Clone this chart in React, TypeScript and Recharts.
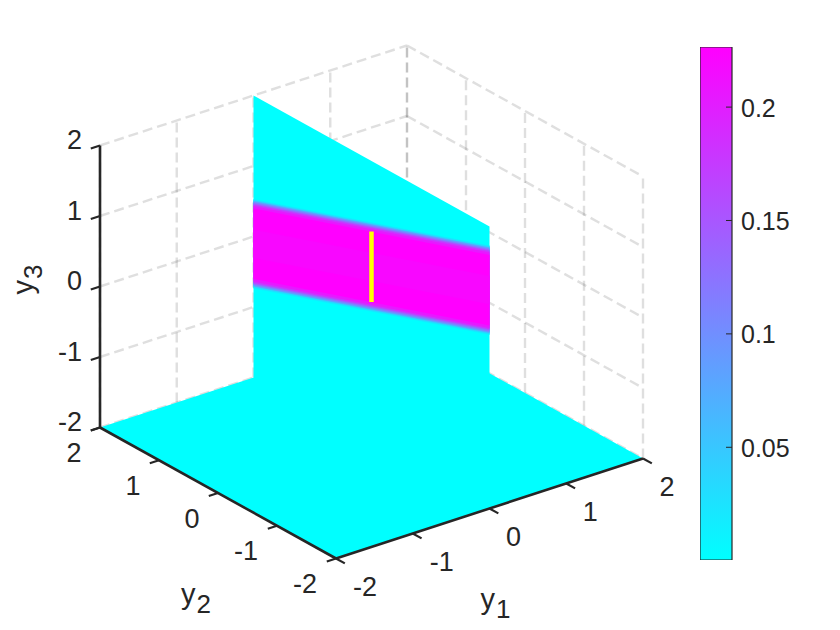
import { Area, Bar, ComposedChart, Line, Scatter, XAxis, YAxis } from "recharts";

type Point3 = [number, number, number];

const tickValues = [-2, -1, 0, 1, 2];
const tickLabels = ["-2", "-1", "0", "1", "2"];
const colorbarTicks = [0.05, 0.1, 0.15, 0.2];
const colorMin = 0.0003;
const colorMax = 0.2265;

// nested contours of the density slice on the plane y1 = 0
const bandCenter = 0.497;
const bandSlope = -0.3;
const contourLevels = [0.01, 0.03, 0.06, 0.09, 0.12, 0.15, 0.18, 0.205, 0.2265, 0.22];
const contourHalfWidths = [0.635, 0.625, 0.61, 0.6, 0.585, 0.57, 0.555, 0.535, 0.5, 0.2];
const yellowSegment: Point3[] = [
  [0, 0, 0],
  [0, 0, 1],
];

const INK = "#262626";
const FONT = "Liberation Sans, Arial, sans-serif";

function project([y1, y2, y3]: Point3) {
  return {
    sx: 371.5 + 76.75 * y1 - 59 * y2,
    sy: 302 - 25 * y1 - 32.75 * y2 - 70.5 * y3,
  };
}

function line(a: Point3, b: Point3) {
  return [project(a), project(b)];
}

// turns a convex polygon into x / [low, high] rows for a range Area
function polygonBand(vertices: Point3[]) {
  const pts = vertices.map(project);
  const xs = [...new Set(pts.map((p) => p.sx))].sort((a, b) => a - b);
  return xs.map((sx) => {
    const ys: number[] = [];
    pts.forEach((p, i) => {
      const q = pts[(i + 1) % pts.length];
      if (sx < Math.min(p.sx, q.sx) || sx > Math.max(p.sx, q.sx)) return;
      if (p.sx === q.sx) ys.push(p.sy, q.sy);
      else ys.push(p.sy + ((sx - p.sx) / (q.sx - p.sx)) * (q.sy - p.sy));
    });
    return { sx, band: [Math.min(...ys), Math.max(...ys)] };
  });
}

function coolColor(value: number) {
  const t = Math.min(1, Math.max(0, (value - colorMin) / (colorMax - colorMin)));
  return `rgb(${Math.round(255 * t)},${Math.round(255 * (1 - t))},255)`;
}

const floor: Point3[] = [
  [-2, 2, -2],
  [-2, -2, -2],
  [2, -2, -2],
  [2, 2, -2],
];
const plane: Point3[] = [
  [0, 2, -2],
  [0, 2, 2],
  [0, -2, 2],
  [0, -2, -2],
];

const contours = contourLevels.map((level, i) => {
  const half = contourHalfWidths[i];
  return {
    level,
    data: polygonBand([
      [0, 2, bandCenter + 2 * bandSlope - half],
      [0, 2, bandCenter + 2 * bandSlope + half],
      [0, -2, bandCenter - 2 * bandSlope + half],
      [0, -2, bandCenter - 2 * bandSlope - half],
    ]),
  };
});

const gridLines = [
  ...tickValues.map((v) => line([v, 2, -2], [v, 2, 2])),
  ...tickValues.map((v) => line([2, v, -2], [2, v, 2])),
  ...tickValues.map((v) => line([-2, 2, v], [2, 2, v])),
  ...tickValues.map((v) => line([2, 2, v], [2, -2, v])),
];

const axisLines = [
  line([-2, 2, -2], [-2, 2, 2]),
  line([-2, 2, -2], [-2, -2, -2]),
  line([-2, -2, -2], [2, -2, -2]),
];

const tickMarks = [
  ...tickValues.map((v) => line([-2, 2, v], [-2.12, 2, v])),
  ...tickValues.map((v) => line([-2, v, -2], [-2.12, v, -2])),
  ...tickValues.map((v) => line([v, -2, -2], [v, -2.15, -2])),
];

const y3Labels = tickValues.map((v, i) => ({ ...project([-2, 2, v]), text: tickLabels[i], dx: -18, dy: -6, anchor: "end" }));
const y2Labels = tickValues.map((v, i) => ({ ...project([-2, v, -2]), text: tickLabels[i], dx: v < 0 ? -31 : -26, dy: 25, anchor: "middle" }));
const y1Labels = tickValues.map((v, i) => ({ ...project([v, -2, -2]), text: tickLabels[i], dx: v < 0 ? 29 : 24, dy: 28, anchor: "middle" }));
const tickLabelRows = [...y3Labels, ...y2Labels, ...y1Labels];

const axisTitles = [
  { ...project([0, -2, -2]), sub: "1", dx: -9, dy: 100, rotate: false },
  { ...project([-2, 0, -2]), sub: "2", dx: -37, dy: 111, rotate: false },
  { ...project([-2, 2, 0]), sub: "3", dx: -67, dy: 8, rotate: true },
];

const colorbarRows = [{ name: "density", range: [colorMin, colorMax] }];

function TickText(props: any) {
  const { cx, cy, payload } = props;
  return (
    <text x={cx + payload.dx} y={cy + payload.dy} dy="0.36em" textAnchor={payload.anchor} fontFamily={FONT} fontSize={27} fill={INK}>
      {payload.text}
    </text>
  );
}

function TitleText(props: any) {
  const { cx, cy, payload } = props;
  const x = cx + payload.dx;
  const y = cy + payload.dy;
  return (
    <text x={x} y={y} transform={payload.rotate ? `rotate(-90 ${x} ${y})` : undefined} fontFamily={FONT} fontSize={29} fill={INK}>
      y
      <tspan fontSize={26} dx={1} dy={9}>
        {payload.sub}
      </tspan>
    </text>
  );
}

function ColorbarTick(props: any) {
  const { x, y, payload } = props;
  return (
    <g>
      <line x1={x - 6} y1={y} x2={x} y2={y} stroke={INK} strokeWidth={1} />
      <text x={x + 9} y={y} dy="0.38em" fontFamily={FONT} fontSize={25} fill={INK}>
        {payload.value}
      </text>
    </g>
  );
}

const layer = { position: "absolute", left: 0, top: 0 } as const;
const noMargin = { top: 0, right: 0, bottom: 0, left: 0 };

function ScreenAxes() {
  return [
    <XAxis key="x" dataKey="sx" type="number" domain={[0, 840]} hide />,
    <YAxis key="y" dataKey="sy" type="number" domain={[0, 630]} reversed hide />,
  ];
}

export default function App() {
  return (
    <div style={{ ...layer, width: 840, height: 630, background: "#fff" }}>
      {/* grid sits in its own layer so the surfaces cover it */}
      <div style={layer}>
        <ComposedChart width={840} height={630} margin={noMargin}>
          {ScreenAxes()}
          {gridLines.map((d, i) => (
            <Line key={`grid-${i}`} data={d} dataKey="sy" type="linear" stroke={INK} strokeOpacity={0.15} strokeWidth={2.4} strokeDasharray="10 5" dot={false} activeDot={false} isAnimationActive={false} />
          ))}
        </ComposedChart>
      </div>
      <div style={layer}>
        <ComposedChart width={840} height={630} margin={noMargin}>
          {ScreenAxes()}
          <Area data={polygonBand(floor)} dataKey="band" type="linear" stroke="none" fill="#00ffff" fillOpacity={1} dot={false} activeDot={false} isAnimationActive={false} />
          <Area data={polygonBand(plane)} dataKey="band" type="linear" stroke="none" fill="#00ffff" fillOpacity={1} dot={false} activeDot={false} isAnimationActive={false} />
          {contours.map((c) => (
            <Area key={c.level} data={c.data} dataKey="band" type="linear" stroke="none" fill={coolColor(c.level)} fillOpacity={1} dot={false} activeDot={false} isAnimationActive={false} />
          ))}
          <Line data={yellowSegment.map(project)} dataKey="sy" type="linear" stroke="#ffff00" strokeWidth={4.5} dot={false} activeDot={false} isAnimationActive={false} />
          {axisLines.map((d, i) => (
            <Line key={`axis-${i}`} data={d} dataKey="sy" type="linear" stroke={INK} strokeWidth={2.6} dot={false} activeDot={false} isAnimationActive={false} />
          ))}
          {tickMarks.map((d, i) => (
            <Line key={`tick-${i}`} data={d} dataKey="sy" type="linear" stroke={INK} strokeWidth={2.2} dot={false} activeDot={false} isAnimationActive={false} />
          ))}
          <Scatter data={tickLabelRows} shape={TickText} isAnimationActive={false} />
          <Scatter data={axisTitles} shape={TitleText} isAnimationActive={false} />
        </ComposedChart>
      </div>
      <div style={{ ...layer, left: 700 }}>
        <ComposedChart width={140} height={630} data={colorbarRows} barCategoryGap={0} margin={{ top: 47, right: 0, bottom: 70, left: 0 }}>
          <defs>
            <linearGradient id="cool" x1="0" y1="0" x2="0" y2="1">
              <stop offset="0%" stopColor="#ff00ff" />
              <stop offset="100%" stopColor="#00ffff" />
            </linearGradient>
          </defs>
          <XAxis dataKey="name" hide />
          <YAxis orientation="right" width={108} type="number" domain={[colorMin, colorMax]} ticks={colorbarTicks} interval={0} axisLine={false} tickLine={false} tickSize={0} tickMargin={0} tick={ColorbarTick} allowDataOverflow />
          <Bar dataKey="range" fill="url(#cool)" stroke={INK} strokeWidth={1.2} isAnimationActive={false} />
        </ComposedChart>
      </div>
    </div>
  );
}
